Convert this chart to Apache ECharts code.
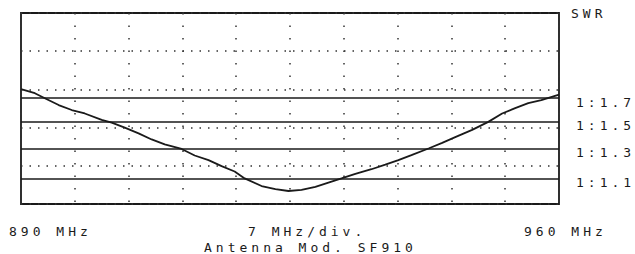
<!DOCTYPE html>
<html>
<head>
<meta charset="utf-8">
<script src="https://cdn.jsdelivr.net/npm/echarts@6/dist/echarts.min.js"></script>
<style>
  html, body { margin: 0; padding: 0; background: #fff; }
  #swr_chart { width: 635px; height: 254px; }
  /* plotter style wide lettering */
  #swr_chart text { letter-spacing: 4px; }
</style>
</head>
<body>
<div id="swr_chart"></div>
<script>
// frequency sweep in MHz, 7 MHz per division
var freqMin = 890
var freqMax = 960
var freqStep = 7

// curve height in screen divisions (0 = bottom, 5 = top)
var freq = [890, 891.8, 893.3, 894.9, 896.6, 898.3, 900.5, 901.8, 903.5, 905.3, 907.0, 908.7,
  910.9, 912.6, 914.4, 916.1, 917.8, 919.1, 921.3, 923.1, 924.8, 926.5, 928.3, 930.0,
  931.7, 933.5, 935.6, 937.4, 939.1, 940.8, 943.1, 944.8, 946.5, 948.7, 950.8, 952.6,
  954.3, 956.0, 957.7, 959.8, 960]
var level = [3.01, 2.90, 2.75, 2.59, 2.46, 2.37, 2.20, 2.13, 2.00, 1.85, 1.69, 1.56,
  1.44, 1.27, 1.15, 0.99, 0.85, 0.67, 0.47, 0.39, 0.34, 0.37, 0.45, 0.56,
  0.67, 0.79, 0.91, 1.03, 1.15, 1.28, 1.46, 1.60, 1.75, 1.94, 2.15, 2.37,
  2.51, 2.64, 2.72, 2.85, 2.86]

// SWR reference lines and where they sit on the screen
var swrNames = ['1:1.7', '1:1.5', '1:1.3', '1:1.1']
var swrLevels = [2.77, 2.16, 1.44, 0.67]

var font = 'DejaVu Sans Mono'
var ink = '#1a1a1a'

var myChart = echarts.init(document.getElementById('swr_chart'), null, {renderer: 'svg'})

var points = freq.map(function (f, i) { return [f, level[i]] })
var refLines = swrNames.map(function (n, i) { return {name: n, yAxis: swrLevels[i]} })

function caption (text, left, top) {
  return {
    text: text,
    left: left,
    top: top,
    padding: 0,
    textStyle: {fontFamily: font, fontSize: 13, lineHeight: 12, fontWeight: 'normal', color: ink}
  }
}

var option = {
  backgroundColor: '#fff',
  animation: false,
  title: [
    caption('890 MHz', 9, 225),
    caption('7 MHz/div.', 248, 225),
    caption('Antenna Mod. SF910', 204, 241),
    caption('960 MHz', 524, 225)
  ],
  grid: {
    left: 21,
    right: 76,
    top: 13,
    bottom: 50,
    show: true,
    borderColor: ink,
    borderWidth: 1.8
  },
  xAxis: {
    type: 'value',
    min: freqMin,
    max: freqMax,
    interval: freqStep,
    axisLine: {show: false},
    axisTick: {show: false},
    axisLabel: {show: false},
    splitLine: {lineStyle: {color: '#333', width: 1.5, type: [1.5, 11]}}
  },
  yAxis: {
    type: 'value',
    position: 'right',
    min: 0,
    max: 5,
    interval: 1,
    name: 'SWR',
    nameLocation: 'end',
    nameGap: 0,
    nameTextStyle: {
      fontFamily: font,
      fontSize: 13,
      color: ink,
      align: 'left',
      verticalAlign: 'middle',
      padding: [0, 0, 0, 12]
    },
    axisLine: {show: false},
    axisTick: {show: false},
    axisLabel: {show: false},
    splitLine: {lineStyle: {color: '#333', width: 1.5, type: [1.5, 7]}}
  },
  series: [
    {
      type: 'line',
      data: points,
      showSymbol: false,
      lineStyle: {color: ink, width: 1.8},
      markLine: {
        silent: true,
        symbol: 'none',
        lineStyle: {color: ink, width: 1.6, type: 'solid'},
        label: {
          position: 'end',
          distance: 17,
          formatter: '{b}',
          fontFamily: font,
          fontSize: 13,
          color: ink,
          verticalAlign: 'top',
          lineHeight: 8
        },
        data: refLines
      }
    }
  ]
}

myChart.setOption(option)
</script>
</body>
</html>
